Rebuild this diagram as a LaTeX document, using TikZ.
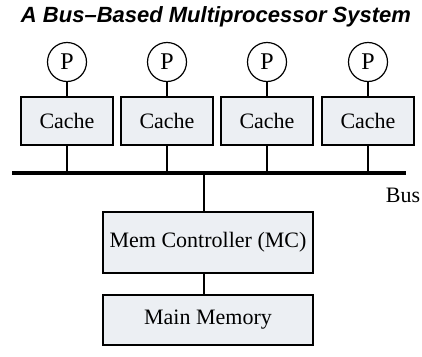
\documentclass[tikz,border=0pt]{standalone}
\usepackage{fontspec}
\setmainfont{Liberation Serif}
\setsansfont{Liberation Sans}
\definecolor{boxfill}{RGB}{236,239,243}
\tikzset{
	proc/.style={draw, circle, line width=1.2pt, minimum size=39pt, inner sep=0pt, font=\fontsize{24}{26}\selectfont},
	cachebox/.style={draw, fill=boxfill, line width=1.2pt, minimum width=92pt, minimum height=48pt, inner sep=0pt, font=\fontsize{22}{24}\selectfont},
	membox/.style={draw, fill=boxfill, line width=1.2pt, minimum width=210pt, inner sep=0pt, font=\fontsize{22}{24}\selectfont},
	link/.style={line width=1.2pt}
}
\begin{document}
\begin{tikzpicture}[x=1pt, y=-1pt]
		\useasboundingbox ( 0, 0 ) rectangle ( 422, 356 );

		% заголовок
		\node (title) at ( 216, 17 ) {\sffamily\bfseries\itshape\fontsize{22}{24}\selectfont A Bus--Based Multiprocessor System};

		% процессоры
		\node [proc] (p1) at (  67, 62 ) {P};
		\node [proc] (p2) at ( 167, 62 ) {P};
		\node [proc] (p3) at ( 267, 62 ) {P};
		\node [proc] (p4) at ( 368, 62 ) {P};

		% кэши
		\node [cachebox] (c1) at (  67, 121 ) {Cache};
		\node [cachebox] (c2) at ( 167, 121 ) {Cache};
		\node [cachebox] (c3) at ( 267, 121 ) {Cache};
		\node [cachebox] (c4) at ( 368, 121 ) {Cache};

		\draw [link] (p1) -- (c1);
		\draw [link] (p2) -- (c2);
		\draw [link] (p3) -- (c3);
		\draw [link] (p4) -- (c4);

		% шина
		\coordinate (busL) at (  12, 173 );
		\coordinate (busR) at ( 406, 173 );
		\coordinate (busM) at ( 204, 173 );
		\draw [line width=4pt] (busL) -- (busR);
		\node [font=\fontsize{22}{24}\selectfont] (bus) at ( 403, 195 ) {Bus};

		\draw [link] (c1) -- (c1 |- busL);
		\draw [link] (c2) -- (c2 |- busL);
		\draw [link] (c3) -- (c3 |- busL);
		\draw [link] (c4) -- (c4 |- busL);

		% контроллер и память
		\node [membox, minimum height=61pt] (mc) at ( 208, 242.5 ) {Mem Controller (MC)};
		\node [membox, minimum height=50pt] (mem) at ( 208, 320 ) {Main Memory};

		\draw [link] (busM) -- (busM |- mc.north);
		\draw [link] (busM |- mc.south) -- (busM |- mem.north);
	\end{tikzpicture}
\end{document}
